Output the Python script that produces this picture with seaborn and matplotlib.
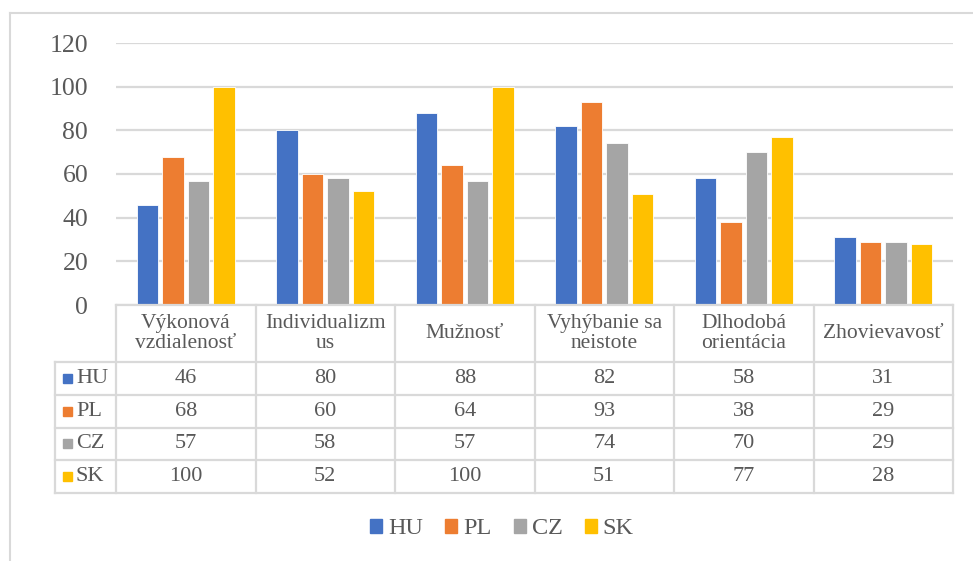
import pandas as pd
import seaborn as sns
import matplotlib.pyplot as plt
from matplotlib.lines import Line2D
from matplotlib.patches import Rectangle

# data
categories = ['Výkonová\nvzdialenosť', 'Individualizm\nus', 'Mužnosť',
              'Vyhýbanie sa\nneistote', 'Dlhodobá\norientácia', 'Zhovievavosť']
countries = ['HU', 'PL', 'CZ', 'SK']
hu = [46, 80, 88, 82, 58, 31]
pl = [68, 60, 64, 93, 38, 29]
cz = [57, 58, 57, 74, 70, 29]
sk = [100, 52, 100, 51, 77, 28]
colors = ['#4472c4', '#ed7d31', '#a5a5a5', '#ffc000']
yticks = [0, 20, 40, 60, 80, 100, 120]

series = [hu, pl, cz, sk]
df = pd.DataFrame({
    'cat': [c for _ in countries for c in range(len(categories))],
    'country': [k for k in countries for _ in categories],
    'value': [v for s in series for v in s],
})

W, H = 973, 561
fig = plt.figure(figsize=(W / 100, H / 100), dpi=100)
plt.rcParams['font.family'] = ['Liberation Serif', 'DejaVu Serif']
grid_c = '#d9d9d9'
text_c = '#595959'

# chart frame (top and left edges)
fig.add_artist(Line2D([10 / W, 1.0], [1 - 13 / H, 1 - 13 / H], color=grid_c, lw=1.5, transform=fig.transFigure))
fig.add_artist(Line2D([10 / W, 10 / W], [1 - 13 / H, 0], color=grid_c, lw=1.5, transform=fig.transFigure))

left, right, top, bottom = 116, 953, 43, 305
ax = fig.add_axes([left / W, 1 - bottom / H, (right - left) / W, (bottom - top) / H])
sns.barplot(data=df, x='cat', y='value', hue='country', palette=colors, saturation=1,
            width=0.73, gap=0.17, ax=ax, legend=False, edgecolor='white', linewidth=0.6)
ax.set_xlim(-0.5, len(categories) - 0.5)
ax.set_ylim(0, 120)
ax.set_yticks(yticks)
ax.set_yticklabels([str(t) for t in yticks], fontsize=18.5, color=text_c)
ax.tick_params(axis='y', length=0, pad=20)
ax.tick_params(axis='x', length=0, labelbottom=False)
ax.set_xlabel('')
ax.set_ylabel('')
ax.grid(axis='y', color=grid_c, lw=1.6)
ax.set_axisbelow(True)
for s in ax.spines.values():
    s.set_visible(False)

# data table below the plot
tl, tb = 55, 493
cw = (right - left) / len(categories)
tax = fig.add_axes([tl / W, 1 - tb / H, (right - tl) / W, (tb - bottom) / H])
x0 = -0.5 - (left - tl) / cw
tax.set_xlim(x0, len(categories) - 0.5)
tax.set_ylim(tb - bottom, 0)
tax.axis('off')
head_h = 57
row_h = (tb - bottom - head_h) / len(countries)
lk = dict(color=grid_c, lw=1.6, clip_on=False)
# horizontal lines
tax.plot([-0.5, len(categories) - 0.5], [0, 0], **lk)
for r in range(len(countries) + 1):
    y = head_h + r * row_h
    tax.plot([x0, len(categories) - 0.5], [y, y], **lk)
# vertical lines
for i in range(len(categories) + 1):
    tax.plot([i - 0.5, i - 0.5], [0, tb - bottom], **lk)
tax.plot([x0, x0], [head_h, tb - bottom], **lk)

for i, c in enumerate(categories):
    tax.text(i, head_h / 2, c, ha='center', va='center', fontsize=15.5,
             color=text_c, linespacing=1.1)
for r, (k, s) in enumerate(zip(countries, series)):
    yc = head_h + (r + 0.5) * row_h
    tax.add_patch(Rectangle((x0 + 0.055, yc - 4.5), 0.068, 9, color=colors[r], clip_on=False))
    tax.text(x0 + 0.15, yc, k, ha='left', va='center', fontsize=16, color=text_c)
    for i, v in enumerate(s):
        tax.text(i, yc, str(v), ha='center', va='center', fontsize=16, color=text_c)

# legend
handles = [Rectangle((0, 0), 1, 1, color=c) for c in colors]
fig.legend(handles, countries, loc='center', bbox_to_anchor=(502 / W, 1 - 529 / H),
           ncol=4, frameon=False, fontsize=17.5, labelcolor=text_c,
           handlelength=0.5, handleheight=0.5, handletextpad=0.25, columnspacing=0.9)

fig.savefig('out.png', dpi=100, facecolor='white')
